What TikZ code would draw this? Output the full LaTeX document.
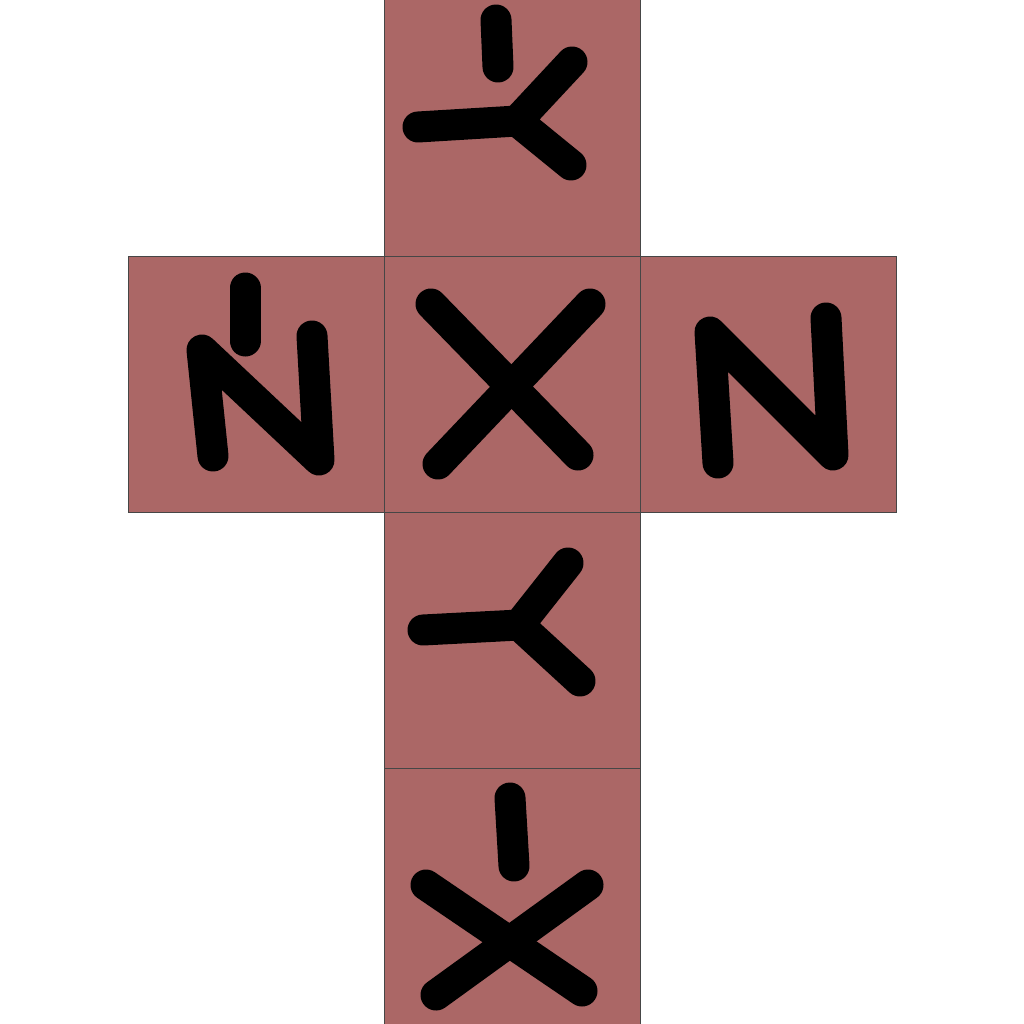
\documentclass[tikz,border=0pt]{standalone}
\definecolor{face}{RGB}{171,103,102}
\definecolor{edge}{RGB}{70,70,70}
\tikzset{
  facebox/.style={fill=face,draw=edge,line width=1pt},
  stroke/.style={draw=black,line width=31pt,line cap=round,line join=round}
}
\begin{document}
\begin{tikzpicture}[x=1pt,y=-1pt]
\useasboundingbox (0,0) rectangle (1024,1024);
% faces
\path[facebox] (384,0) rectangle (640,256);
\path[facebox] (128,256) rectangle (384,512);
\path[facebox] (384,256) rectangle (640,512);
\path[facebox] (640,256) rectangle (896,512);
\path[facebox] (384,512) rectangle (640,768);
\path[facebox] (384,768) rectangle (640,1024);
% top: -Y
\draw[stroke] (496,20) -- (498,67);
\draw[stroke] (418,127) -- (517,121);
\draw[stroke] (572,62) -- (517,121) -- (571,165);
% left: -N
\draw[stroke] (245,288) -- (245,341);
\draw[stroke] (213,456) -- (202,350) -- (319,460) -- (312,336);
% center: X
\draw[stroke] (431,304) -- (578,455);
\draw[stroke] (590,304) -- (438,464);
% right: N
\draw[stroke] (718,463) -- (710,332) -- (833,455) -- (826,318);
% middle: Y
\draw[stroke] (423,630) -- (519,625);
\draw[stroke] (568,563) -- (519,625) -- (580,681);
% bottom: -X
\draw[stroke] (510,798) -- (514,866);
\draw[stroke] (426,885) -- (582,991);
\draw[stroke] (588,885) -- (436,995);
\end{tikzpicture}
\end{document}
